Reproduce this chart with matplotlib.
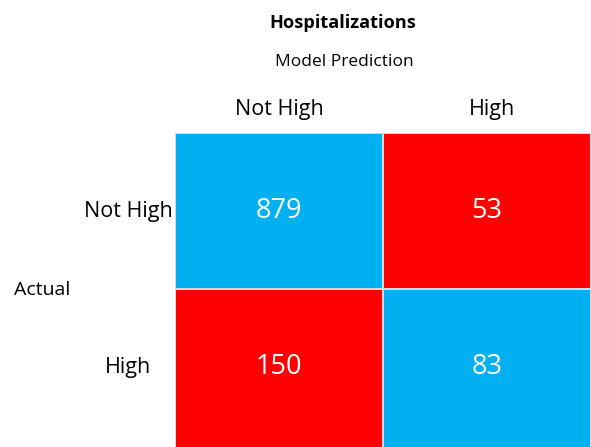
import matplotlib
matplotlib.use("Agg")
import matplotlib.pyplot as plt
import numpy as np
from matplotlib.colors import ListedColormap

plt.rcParams['font.family'] = ['Open Sans', 'DejaVu Sans']

# confusion matrix counts: rows = actual, cols = predicted
pred_labels = ["Not High", "High"]
actual_labels = ["Not High", "High"]
counts = np.array([[879, 53],
                   [150, 83]])
correct = np.array([[1, 0],
                    [0, 1]])

W, H = 591, 447
fig = plt.figure(figsize=(W / 100, H / 100), dpi=100)

# grid runs off the right and bottom edges of the canvas
cell_w, cell_h = 208, 156
left, top = 175, 133
x_edges = [0, 1, 2]
y_edges = [0, 1, 2.1]
ax = fig.add_axes([left / W, (H - top - 2.1 * cell_h) / H,
                   2 * cell_w / W, 2.1 * cell_h / H])
cmap = ListedColormap(["#FF0000", "#00B0F0"])
ax.pcolormesh(x_edges, y_edges, correct, cmap=cmap, edgecolors="#D9D9D9", linewidth=1.2)
ax.set_xlim(0, 2)
ax.set_ylim(2.1, 0)
ax.axis("off")

for i in range(2):
    for j in range(2):
        ax.text(j + 0.5, i + 0.5, str(counts[i, j]), ha="center", va="center",
                color="white", fontsize=19.5)

# column headers
col_x = [279, 492]
for j, lab in enumerate(pred_labels):
    fig.text(col_x[j] / W, 1 - 110 / H, lab,
             ha="center", va="center", fontsize=15.5)

# row headers
for i, lab in enumerate(actual_labels):
    fig.text(128 / W, 1 - (top + cell_h * (i + 0.5)) / H, lab,
             ha="center", va="center", fontsize=15.5)

fig.text(343 / W, 1 - 23 / H, "Hospitalizations", ha="center", va="center",
         fontsize=13.1, fontweight="bold")
fig.text(344 / W, 1 - 62 / H, "Model Prediction", ha="center", va="center",
         fontsize=12.5)
fig.text(42 / W, 1 - 290 / H, "Actual", ha="center", va="center", fontsize=14)

fig.savefig("out.png", dpi=100)
